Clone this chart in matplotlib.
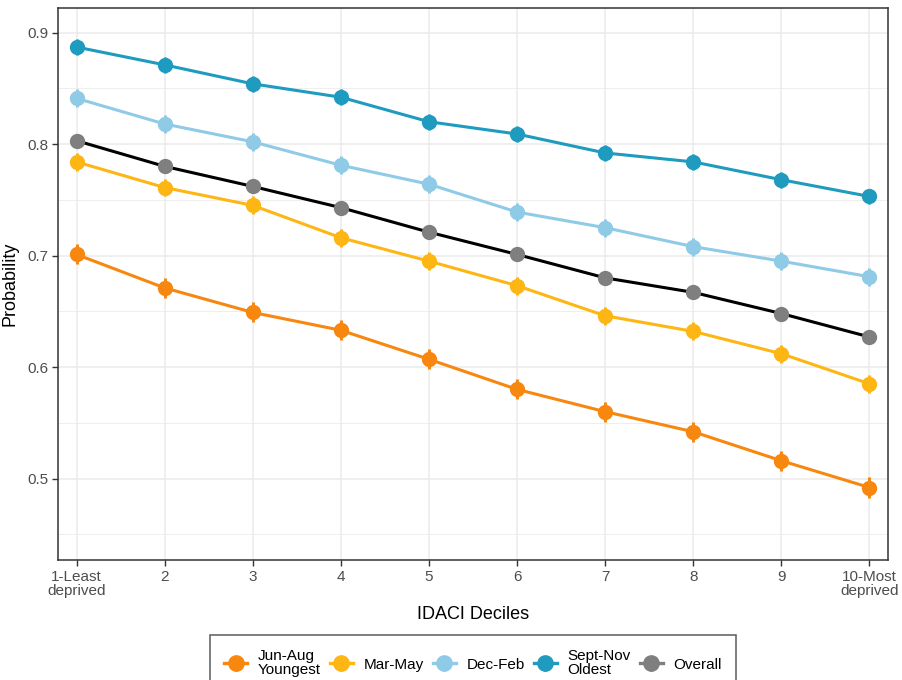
import matplotlib
matplotlib.use("Agg")
import matplotlib.pyplot as plt
import numpy as np

plt.rcParams['font.family'] = ['Liberation Sans', 'DejaVu Sans']

deciles = list(range(1, 11))
tick_labels = ["1-Least\ndeprived", "2", "3", "4", "5", "6", "7", "8", "9", "10-Most\ndeprived"]

jun_aug = [0.701, 0.671, 0.649, 0.633, 0.607, 0.580, 0.560, 0.542, 0.516, 0.492]
mar_may = [0.784, 0.761, 0.745, 0.716, 0.695, 0.673, 0.646, 0.632, 0.612, 0.585]
dec_feb = [0.841, 0.818, 0.802, 0.781, 0.764, 0.739, 0.725, 0.708, 0.695, 0.681]
sep_nov = [0.887, 0.871, 0.854, 0.842, 0.820, 0.809, 0.792, 0.784, 0.768, 0.753]
overall = [0.803, 0.780, 0.762, 0.743, 0.721, 0.701, 0.680, 0.667, 0.648, 0.627]

err_jun_aug = [0.009] * 10
err_mar_may = [0.008] * 10
err_dec_feb = [0.008] * 10
err_sep_nov = [0.007] * 10
err_overall = [0.003] * 10

labels = ["Jun-Aug\nYoungest", "Mar-May", "Dec-Feb", "Sept-Nov\nOldest", "Overall"]
colors = ["#F7870F", "#FDB614", "#8FCAE6", "#1E9BBE", "#7F7F7F"]
line_colors = ["#F7870F", "#FDB614", "#8FCAE6", "#1E9BBE", "#000000"]

series = [jun_aug, mar_may, dec_feb, sep_nov, overall]
errs = [err_jun_aug, err_mar_may, err_dec_feb, err_sep_nov, err_overall]

fig = plt.figure(figsize=(9.02, 6.8), dpi=100)
ax = fig.add_axes([58/902, 1-560/680, (888-58)/902, (560-8)/680])

x = np.array(deciles)
for y, e, c, lc in zip(series, errs, colors, line_colors):
    ax.plot(x, y, color=lc, lw=2.2, zorder=3)
    ax.errorbar(x, y, yerr=e, fmt='o', color=c, ms=10, elinewidth=2.2,
                capsize=0, zorder=4)

handles = []
for c in colors:
    handles.append(ax.errorbar([], [], yerr=[], fmt='o-', color=c, ms=11, lw=2.4,
                               elinewidth=2.4, capsize=0))

ax.set_xlim(0.79, 10.21)
ax.set_ylim(0.427, 0.922)
ax.set_xticks(deciles)
ax.set_xticklabels(tick_labels, fontsize=11, color="#4D4D4D", linespacing=1.0)
ax.set_yticks([0.5, 0.6, 0.7, 0.8, 0.9])
ax.set_yticklabels(["0.5", "0.6", "0.7", "0.8", "0.9"], fontsize=11, color="#4D4D4D")
ax.set_yticks([0.45, 0.55, 0.65, 0.75, 0.85], minor=True)
ax.tick_params(axis='both', which='major', length=4, color="#333333", width=1, pad=3)
ax.tick_params(axis='y', which='minor', length=0)
ax.grid(True, which='major', color="#EBEBEB", lw=1.1, zorder=0)
ax.grid(True, which='minor', axis='y', color="#EBEBEB", lw=0.6, zorder=0)
ax.set_axisbelow(True)
for s in ax.spines.values():
    s.set_color("#333333")
    s.set_linewidth(1.1)

ax.set_xlabel("IDACI Deciles", fontsize=13, labelpad=6)
ax.set_ylabel("Probability", fontsize=13, labelpad=6)

leg = ax.legend(handles, labels, loc='upper center', bbox_to_anchor=(0.5, -0.122),
                ncol=5, frameon=True, fontsize=11, handlelength=1.5,
                handletextpad=0.7, columnspacing=0.6, borderpad=0.9,
                fancybox=False, labelspacing=0.2)
for t in leg.get_texts():
    t.set_linespacing(1.05)
leg.get_frame().set_edgecolor("#333333")
leg.get_frame().set_linewidth(1.1)

fig.savefig("out.png", dpi=100)
